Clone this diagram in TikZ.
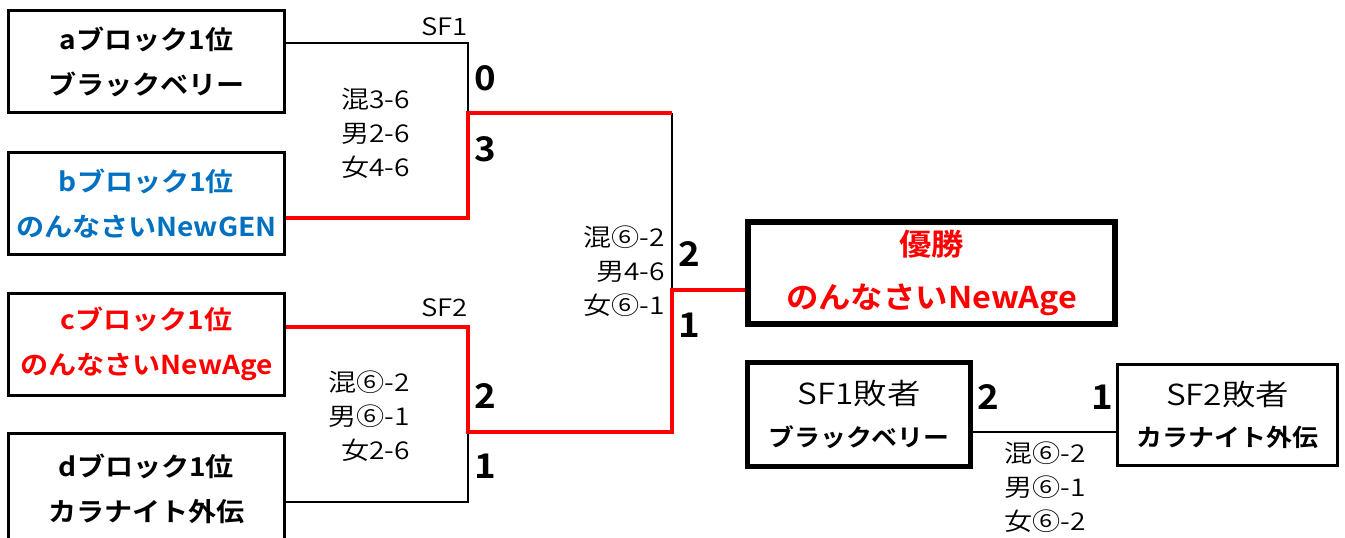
\documentclass[tikz,border=0pt]{standalone}
\usepackage{fontspec}
\newfontfamily\jpb{Noto Sans CJK JP Bold}[FakeStretch=1.08]
\newfontfamily\jpl{Noto Sans CJK JP DemiLight}[FakeStretch=1.15]
\definecolor{xblue}{HTML}{0070C0}
\definecolor{xred}{HTML}{FF0000}
\begin{document}
\begin{tikzpicture}[x=1pt,y=-1pt,
  team/.style={draw,line width=3pt,minimum width=276pt,minimum height=102pt,inner sep=0pt,align=center,font=\jpb\fontsize{26}{45}\selectfont},
  lose/.style={line width=2.8pt,black,line join=miter},
  win/.style={line width=4.5pt,xred,line join=miter},
  pts/.style={font=\jpb\fontsize{34}{34}\selectfont,inner sep=0pt},
  res/.style={font=\jpl\fontsize{24.5}{34}\selectfont,inner sep=0pt,align=right,anchor=east},
  sflab/.style={font=\jpl\fontsize{24}{24}\selectfont,inner sep=0pt,anchor=east}]
\useasboundingbox (0,0) rectangle (1345,538);
% team boxes
\node[team] (a) at (146.5,61.5) {aブロック1位\\ブラックベリー};
\node[team,text=xblue] (b) at (146.5,203.5) {bブロック1位\\のんなさいNewGEN};
\node[team,text=xred] (c) at (146.5,344) {cブロック1位\\のんなさいNewAge};
\node[team,minimum height=110pt] (d) at (146.5,488.5) {dブロック1位\\カラナイト外伝};
\node[draw,line width=6pt,minimum width=367pt,minimum height=102pt,inner sep=0pt,align=center,text=xred,font=\jpb\fontsize{30}{53}\selectfont] (champ) at (931.5,273) {優勝\\のんなさいNewAge};
\node[draw,line width=5pt,minimum width=223pt,minimum height=104pt,inner sep=0pt,align=center] (l1) at (859,414.5) {{\jpl\fontsize{29}{29}\selectfont SF1敗者}\\[17pt]{\jpb\fontsize{24}{24}\selectfont ブラックベリー}};
\node[draw,line width=3pt,minimum width=220pt,minimum height=101pt,inner sep=0pt,align=center] (l2) at (1227.5,415) {{\jpl\fontsize{29}{29}\selectfont SF2敗者}\\[17pt]{\jpb\fontsize{24}{24}\selectfont カラナイト外伝}};
% bracket corners
\coordinate (s1top) at (468,43);
\coordinate (s1mid) at (468,113);
\coordinate (s1bot) at (468,218);
\coordinate (ftop) at (672,113);
\coordinate (fmid) at (672,290);
\coordinate (fbot) at (672,432);
\coordinate (s2top) at (468,327);
\coordinate (s2mid) at (468,432);
\coordinate (s2bot) at (468,502);
\coordinate (lmid) at (1045,432);
% losing lines
\draw[lose] (a.east |- s1top) -- (s1top) -- (s1mid);
\draw[lose] (ftop) -- (fmid);
\draw[lose] (s2mid) -- (s2bot) -- (d.east |- s2bot);
\draw[lose] (l1.east |- lmid) -- (l2.west |- lmid);
% winning lines
\draw[win] (b.east |- s1bot) -- (s1bot) -- (s1mid) -- (ftop);
\draw[win] (c.east |- s2top) -- (s2top) -- (s2mid) -- (fbot) -- (fmid) -- (champ.west |- fmid);
% labels
\node[sflab] (sf1) at (468,27) {SF1};
\node[sflab] (sf2) at (468,308) {SF2};
\node[pts] (p0) at (485,78) {0};
\node[pts] (p3) at (485,149) {3};
\node[pts] (p2) at (485,396) {2};
\node[pts] (p1) at (485,466) {1};
\node[pts] (pf2) at (689,254) {2};
\node[pts] (pf1) at (689,325) {1};
\node[pts] (pl2) at (988,397) {2};
\node[pts] (pl1) at (1102,397) {1};
\node[res] (r1) at (410,133) {混3-6\\男2-6\\女4-6};
\node[res] (r2) at (410,416) {混⑥-2\\男⑥-1\\女2-6};
\node[res] (r3) at (665,271) {混⑥-2\\男4-6\\女⑥-1};
\node[res,align=center,anchor=center] (r4) at (1045,487) {混⑥-2\\男⑥-1\\女⑥-2};
\end{tikzpicture}
\end{document}
